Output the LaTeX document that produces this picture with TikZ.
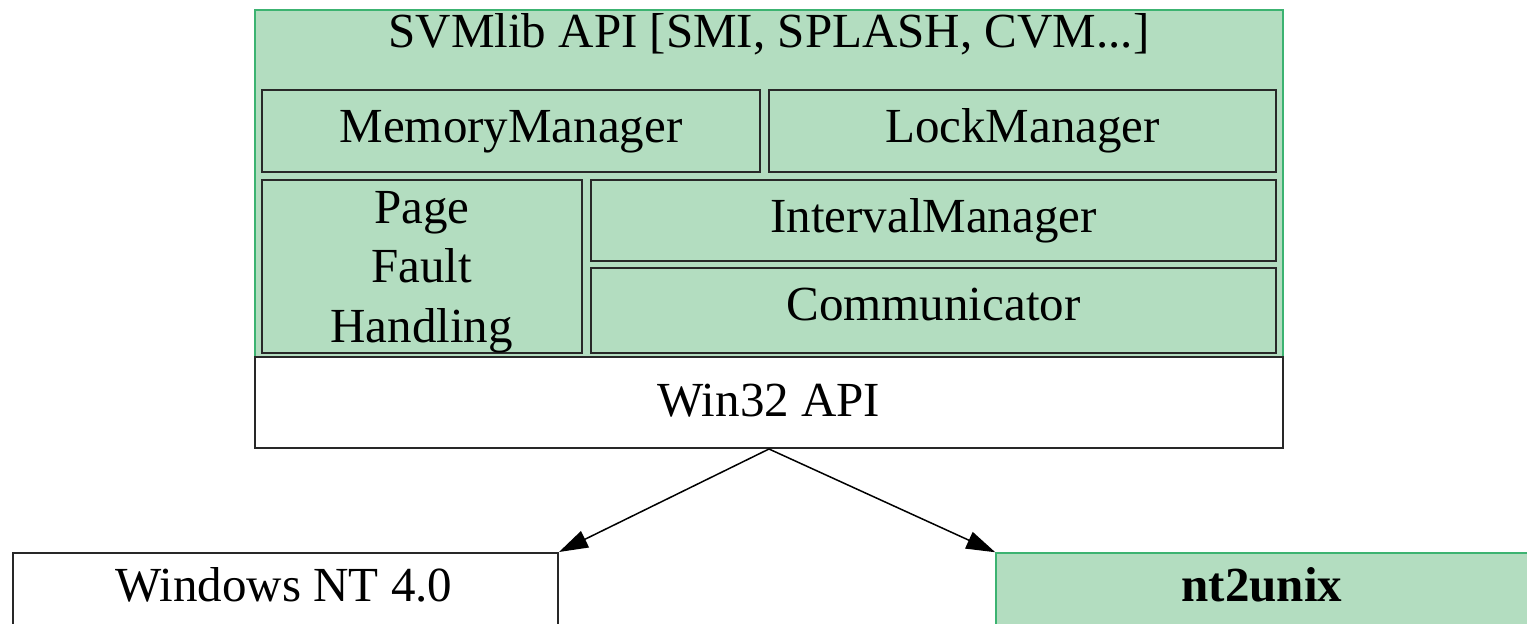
\documentclass[tikz,border=0pt]{standalone}
\usepackage{fontspec}
\setmainfont{Liberation Serif}
\usetikzlibrary{arrows.meta}
\definecolor{boxgreen}{RGB}{179,221,192}
\definecolor{edgegreen}{RGB}{60,179,113}
\definecolor{edgegray}{RGB}{40,40,40}
\tikzset{
  panel/.style={draw=edgegreen, fill=boxgreen, line width=1.5pt, inner sep=0pt},
  subbox/.style={draw=edgegray, fill=boxgreen, line width=2pt, inner sep=0pt},
  plainbox/.style={draw=edgegray, fill=white, line width=2pt, inner sep=0pt},
  lbl/.style={anchor=base, inner sep=0pt, font=\fontsize{49}{59.5}\selectfont, align=center},
  conn/.style={draw=black, line width=1.5pt, -{Triangle[length=29pt,width=18pt]}}
}
\begin{document}
\begin{tikzpicture}[x=1pt, y=-1pt]
  \path[use as bounding box] (0,0) rectangle (1527,624);
  \clip (0,0) rectangle (1527,624);
  % boxes
  \node[panel, minimum width=1028pt, minimum height=347pt] (svm) at (769,183.5) {};
  \node[plainbox, minimum width=1028pt, minimum height=91pt] (win32) at (769,402.5) {};
  \node[subbox, minimum width=498pt, minimum height=82pt] (mem) at (511,131) {};
  \node[subbox, minimum width=507pt, minimum height=82pt] (lock) at (1022.5,131) {};
  \node[subbox, minimum width=319.5pt, minimum height=173pt] (pf) at (421.75,266.5) {};
  \node[subbox, minimum width=685pt, minimum height=81pt] (interval) at (933.5,220.5) {};
  \node[subbox, minimum width=685pt, minimum height=85pt] (comm) at (933.5,310.5) {};
  \node[plainbox, minimum width=545pt, minimum height=97pt] (winnt) at (285.5,601.5) {};
  \node[panel, minimum width=544pt, minimum height=97pt] (ntux) at (1268,601.5) {};
  % labels
  \node[lbl] (svmtxt) at (769,47) {SVMlib API [SMI, SPLASH, CVM...]};
  \node[lbl] (memtxt) at (511,142) {MemoryManager};
  \node[lbl] (locktxt) at (1022.5,142) {LockManager};
  \node[lbl] (pftxt) at (421.75,342) {Page\\Fault\\Handling};
  \node[lbl] (inttxt) at (933.5,232) {IntervalManager};
  \node[lbl] (commtxt) at (933.5,320) {Communicator};
  \node[lbl] (wintxt) at (769,416) {Win32 API};
  \node[lbl] (winnttxt) at (284,601) {Windows NT 4.0};
  \node[lbl, font=\fontsize{49}{59.5}\selectfont\bfseries] (ntuxtxt) at (1262,601) {nt2unix};
  % connectors
  \draw[conn] (win32.south) -- (winnt.north east);
  \draw[conn] (win32.south) -- (ntux.north west);
\end{tikzpicture}
\end{document}
